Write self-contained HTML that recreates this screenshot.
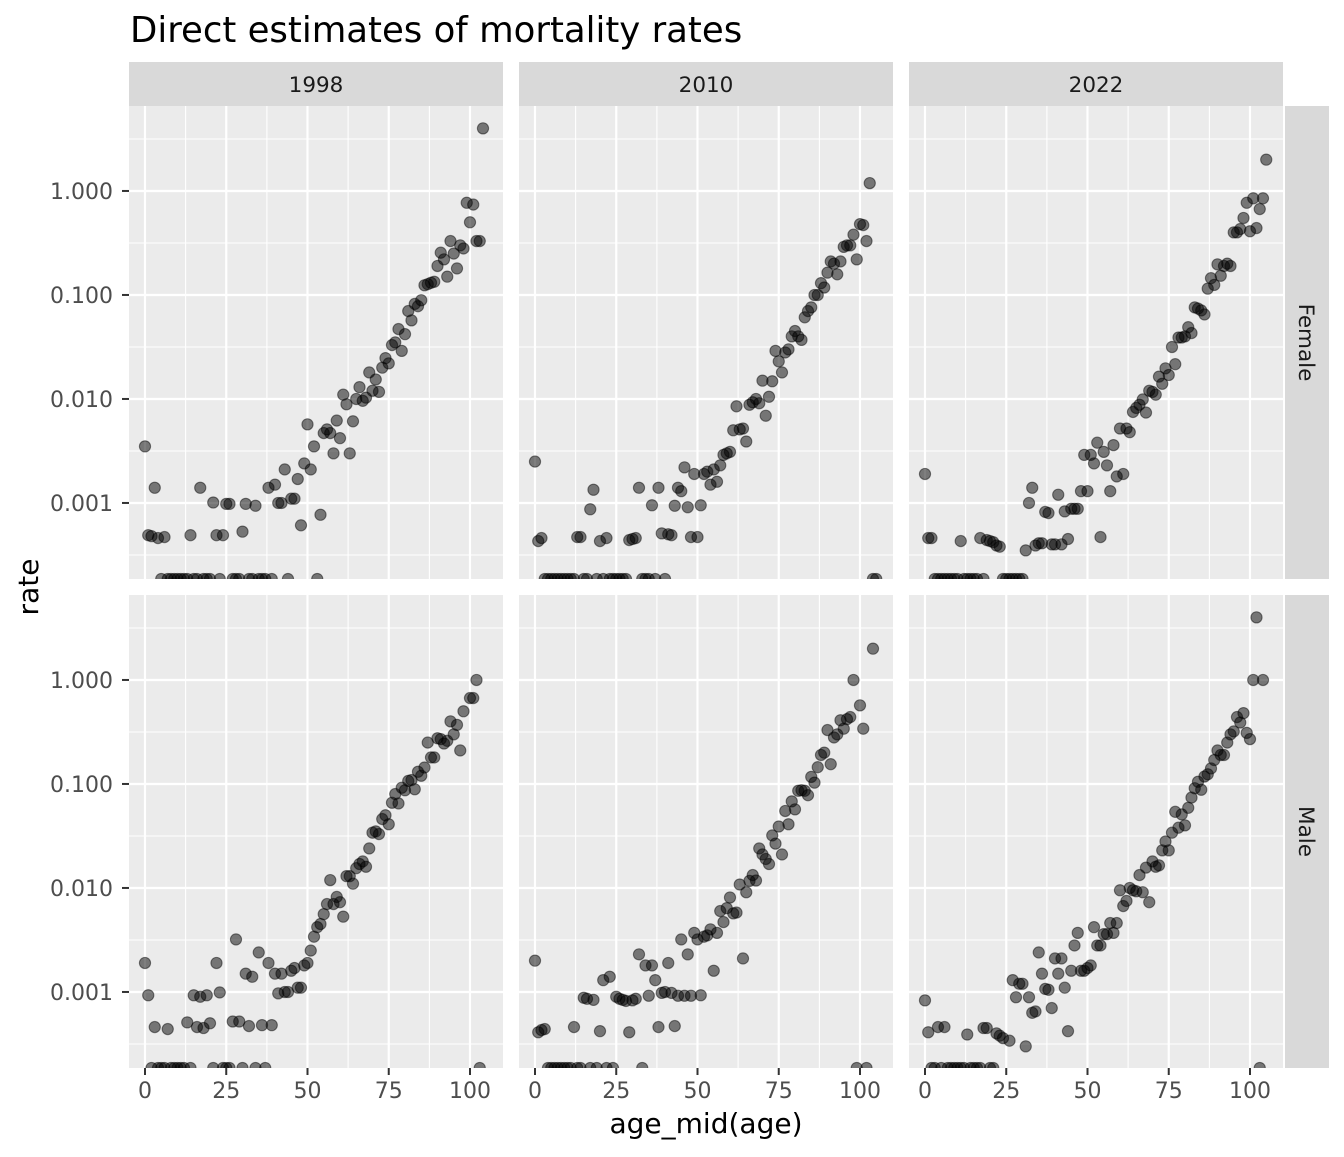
<!DOCTYPE html>
<html><head><meta charset="utf-8"><style>
html,body{margin:0;padding:0;background:#fff;}
svg text{font-family:"DejaVu Sans","Liberation Sans",sans-serif;}
</style></head><body>
<svg id="chart" width="1344" height="1152" viewBox="0 0 1344 1152" xmlns="http://www.w3.org/2000/svg">
<rect x="0" y="0" width="1344" height="1152" fill="#fff"/>
<text x="130" y="42" font-size="35.5" fill="#000">Direct estimates of mortality rates</text>
<text x="706" y="1133" font-size="28" fill="#000" text-anchor="middle">age_mid(age)</text>
<text transform="translate(38,587) rotate(-90)" font-size="28" fill="#000" text-anchor="middle">rate</text>
</svg>
<script>
const years = ["1998","2010","2022"];
const sexes = ["Female","Male"];
const xTicks = [0,25,50,75,100];
const xMinor = [12.5,37.5,62.5,87.5];
const yTicks = [1,0.1,0.01,0.001];
const yTickLabels = ["1.000","0.100","0.010","0.001"];
const yMinor = [3.16,0.316,0.0316,0.00316,0.000316];

const f1998Ages = [0,1,2,3,4,6,14,17,21,22,24,25,26,30,31,34,38,40,41,42,43,45,46,47,48,49,50,51,52,54,55,56,57,58,59,60,61,62,63,64,65,66,67,68,69,70,71,72,73,74,75,76,77,78,79,80,81,82,83,84,85,86,87,88,89,90,91,92,93,94,95,96,97,98,99,100,101,102,103,104];
const f1998Rates = [0.0035,0.00049,0.00048,0.0014,0.00046,0.00047,0.00049,0.0014,0.00101,0.00049,0.00049,0.00098,0.00098,0.00053,0.00098,0.00094,0.0014,0.0015,0.001,0.001,0.0021,0.0011,0.0011,0.0017,0.00061,0.0024,0.0057,0.0021,0.0035,0.00077,0.0047,0.0051,0.0047,0.003,0.0062,0.0042,0.011,0.0089,0.003,0.0061,0.01,0.013,0.0096,0.0103,0.018,0.012,0.0154,0.0117,0.02,0.0247,0.022,0.033,0.035,0.047,0.029,0.042,0.07,0.057,0.082,0.078,0.089,0.124,0.127,0.131,0.134,0.19,0.255,0.22,0.15,0.33,0.25,0.18,0.3,0.28,0.77,0.5,0.74,0.33,0.33,4.0];
const f1998ZeroAges = [5,7,8,9,10,11,12,13,15,16,18,19,20,23,27,28,29,32,33,35,36,37,39,44,53];

const f2010Ages = [0,1,2,13,14,17,18,20,22,29,30,31,32,36,38,39,41,42,43,44,45,46,47,48,49,50,51,52,53,54,55,56,57,58,59,60,61,62,63,64,65,66,67,68,69,70,71,72,73,74,75,76,77,78,79,80,81,82,83,84,85,86,87,88,89,90,91,92,93,94,95,96,97,98,99,100,101,102,103];
const f2010Rates = [0.0025,0.00043,0.00046,0.00047,0.00047,0.00087,0.00134,0.00043,0.00046,0.00044,0.00045,0.00046,0.0014,0.00095,0.0014,0.00051,0.0005,0.00049,0.00094,0.0014,0.0013,0.0022,0.00091,0.00047,0.0019,0.00047,0.00095,0.0019,0.002,0.0015,0.0021,0.0016,0.0023,0.0029,0.003,0.0031,0.005,0.0085,0.0051,0.0052,0.0039,0.0088,0.0093,0.01,0.0091,0.015,0.0069,0.0105,0.0148,0.029,0.023,0.018,0.028,0.03,0.04,0.045,0.04,0.037,0.061,0.07,0.076,0.1,0.1,0.13,0.118,0.164,0.21,0.2,0.158,0.21,0.29,0.3,0.3,0.38,0.22,0.48,0.47,0.33,1.19];
const f2010ZeroAges = [3,4,5,6,7,8,9,10,11,12,15,16,19,21,23,24,25,26,27,28,33,34,35,37,40,104,105];

const f2022Ages = [0,1,2,11,17,19,20,21,22,23,31,32,33,34,35,36,37,38,39,40,41,42,43,44,45,46,47,48,49,50,51,52,53,54,55,56,57,58,59,60,61,62,63,64,65,66,67,68,69,70,71,72,73,74,75,76,77,78,79,80,81,82,83,84,85,86,87,88,89,90,91,92,93,94,95,96,97,98,99,100,101,102,103,104,105];
const f2022Rates = [0.0019,0.00046,0.00046,0.00043,0.00046,0.00044,0.00043,0.00042,0.00039,0.00038,0.00035,0.001,0.0014,0.00039,0.00041,0.00041,0.00082,0.0008,0.0004,0.0004,0.0012,0.0004,0.00083,0.00045,0.00088,0.00088,0.00088,0.0013,0.0029,0.0013,0.0029,0.0024,0.0038,0.00047,0.0031,0.0023,0.0013,0.0036,0.0018,0.0052,0.0019,0.0052,0.0048,0.0075,0.0082,0.0088,0.0099,0.0074,0.012,0.0117,0.011,0.0164,0.014,0.0197,0.017,0.0316,0.0216,0.039,0.039,0.04,0.049,0.043,0.076,0.074,0.071,0.065,0.115,0.145,0.125,0.197,0.153,0.19,0.2,0.19,0.4,0.4,0.43,0.55,0.77,0.41,0.85,0.44,0.67,0.85,2.0];
const f2022ZeroAges = [3,4,5,6,7,8,9,10,12,13,14,15,16,18,24,25,26,27,28,29,30];

const m1998Ages = [0,1,3,7,13,15,16,17,18,19,20,22,23,27,28,29,31,32,33,35,36,38,39,40,41,42,43,44,45,46,47,48,49,50,51,52,53,54,55,56,57,58,59,60,61,62,63,64,65,66,67,68,69,70,71,72,73,74,75,76,77,78,79,80,81,82,83,84,85,86,87,88,89,90,91,92,93,94,95,96,97,98,100,101,102];
const m1998Rates = [0.0019,0.00093,0.00046,0.00044,0.00051,0.00093,0.00046,0.0009,0.00045,0.00093,0.0005,0.0019,0.00099,0.00052,0.0032,0.00052,0.0015,0.00047,0.0014,0.0024,0.00048,0.0019,0.00048,0.0015,0.00097,0.0015,0.001,0.001,0.0016,0.0017,0.0011,0.0011,0.0018,0.0019,0.0025,0.0034,0.0042,0.0045,0.0056,0.007,0.0119,0.007,0.0082,0.0073,0.0053,0.013,0.013,0.011,0.0155,0.017,0.018,0.016,0.024,0.034,0.035,0.033,0.046,0.05,0.041,0.066,0.08,0.065,0.092,0.087,0.107,0.109,0.089,0.131,0.12,0.144,0.25,0.18,0.18,0.275,0.27,0.245,0.26,0.4,0.3,0.37,0.21,0.5,0.67,0.67,1.0];
const m1998ZeroAges = [2,4,5,6,8,9,10,11,12,14,21,24,25,26,30,34,37,103];

const m2010Ages = [0,1,2,3,12,15,16,18,20,21,23,25,26,27,28,29,30,31,32,34,35,36,37,38,39,40,41,42,43,44,45,46,47,48,49,50,51,52,53,54,55,56,57,58,59,60,61,62,63,64,65,66,67,68,69,70,71,72,73,74,75,76,77,78,79,80,81,82,83,84,85,86,87,88,89,90,91,92,93,94,95,96,97,98,100,101,104];
const m2010Rates = [0.002,0.00041,0.00043,0.00044,0.00046,0.00088,0.00086,0.00084,0.00042,0.0013,0.0014,0.0009,0.00086,0.00084,0.00082,0.00041,0.00083,0.00086,0.0023,0.0018,0.00092,0.0018,0.0013,0.00046,0.00098,0.001,0.0019,0.00098,0.00047,0.00092,0.0032,0.00092,0.0023,0.00092,0.0037,0.0032,0.00093,0.0034,0.0035,0.004,0.0016,0.0037,0.006,0.0047,0.0064,0.0081,0.0057,0.0058,0.0108,0.0021,0.0091,0.0117,0.0133,0.0118,0.024,0.021,0.019,0.017,0.032,0.0267,0.039,0.021,0.055,0.041,0.068,0.057,0.086,0.087,0.086,0.078,0.117,0.103,0.145,0.19,0.2,0.33,0.155,0.28,0.3,0.41,0.34,0.42,0.44,1.0,0.57,0.34,2.0];
const m2010ZeroAges = [4,5,6,7,8,9,10,11,13,14,17,19,22,24,33,99,102];

const m2022Ages = [0,1,4,6,13,18,19,22,23,24,26,27,28,29,30,31,32,33,34,35,36,37,38,39,40,41,42,43,44,45,46,47,48,49,50,51,52,53,54,55,56,57,58,59,60,61,62,63,64,65,66,67,68,69,70,71,72,73,74,75,76,77,78,79,80,81,82,83,84,85,86,87,88,89,90,91,92,93,94,95,96,97,98,99,100,101,102,104];
const m2022Rates = [0.00083,0.00041,0.00046,0.00046,0.00039,0.00045,0.00045,0.0004,0.00038,0.00036,0.00034,0.0013,0.00089,0.0012,0.0012,0.0003,0.00089,0.00063,0.00065,0.0024,0.0015,0.00107,0.00105,0.0007,0.0021,0.0015,0.0021,0.0011,0.00042,0.0016,0.0028,0.0037,0.0016,0.0016,0.0017,0.0018,0.0042,0.0028,0.0028,0.0036,0.0036,0.0046,0.0037,0.0046,0.0095,0.0067,0.0075,0.01,0.0095,0.0093,0.0133,0.0091,0.0157,0.0073,0.018,0.016,0.0165,0.023,0.028,0.023,0.034,0.054,0.038,0.051,0.04,0.059,0.074,0.091,0.105,0.088,0.118,0.124,0.141,0.17,0.21,0.19,0.19,0.25,0.3,0.32,0.44,0.39,0.48,0.31,0.27,1.0,4.0,1.0];
const m2022ZeroAges = [2,3,5,7,8,9,10,11,12,14,15,16,17,20,21,103];

const panels = [
  [f1998Ages,f1998Rates,f1998ZeroAges],[f2010Ages,f2010Rates,f2010ZeroAges],[f2022Ages,f2022Rates,f2022ZeroAges],
  [m1998Ages,m1998Rates,m1998ZeroAges],[m2010Ages,m2010Rates,m2010ZeroAges],[m2022Ages,m2022Rates,m2022ZeroAges]
];

const NS = "http://www.w3.org/2000/svg";
const svg = document.getElementById("chart");
const PW = 374, PH = 473, COLX = [129,519,909], ROWY = [106,595];
const AGE_MIN = -4.92, PX_PER_AGE = 3.25;
const LOG_MAX = 0.817, PX_PER_DEC = 104;
function xScale(c, age){ return COLX[c] + (age - AGE_MIN) * PX_PER_AGE; }
function yScale(r, v){
  if (v <= 0) return ROWY[r] + PH;
  return ROWY[r] + (LOG_MAX - Math.log10(v)) * PX_PER_DEC;
}
function mk(tag, attrs, parent){
  const e = document.createElementNS(NS, tag);
  for (const k in attrs) e.setAttribute(k, attrs[k]);
  (parent || svg).appendChild(e);
  return e;
}

const defs = mk("defs", {});
for (let r = 0; r < 2; r++) for (let c = 0; c < 3; c++) {
  const cp = mk("clipPath", {id: "clip" + r + c}, defs);
  mk("rect", {x: COLX[c], y: ROWY[r], width: PW, height: PH}, cp);
}

for (let r = 0; r < 2; r++) {
  for (let c = 0; c < 3; c++) {
    const g = mk("g", {});
    
    
    const bg = mk("rect", {x: COLX[c], y: ROWY[r], width: PW, height: PH, fill: "#EBEBEB"}, g);
    
    
    const gg = mk("g", {"clip-path": "url(#clip" + r + c + ")"}, g);
    
    
    yMinor.forEach(v => {
      const y = yScale(r, v);
      mk("line", {x1: COLX[c], x2: COLX[c] + PW, y1: y, y2: y, stroke: "#fff", "stroke-width": 1.1}, gg);
    });
    xMinor.forEach(a => {
      const x = xScale(c, a);
      mk("line", {x1: x, x2: x, y1: ROWY[r], y2: ROWY[r] + PH, stroke: "#fff", "stroke-width": 1.1}, gg);
    });
    yTicks.forEach(v => {
      const y = yScale(r, v);
      mk("line", {x1: COLX[c], x2: COLX[c] + PW, y1: y, y2: y, stroke: "#fff", "stroke-width": 2.2}, gg);
    });
    xTicks.forEach(a => {
      const x = xScale(c, a);
      mk("line", {x1: x, x2: x, y1: ROWY[r], y2: ROWY[r] + PH, stroke: "#fff", "stroke-width": 2.2}, gg);
    });
    const pts = mk("g", {"clip-path": "url(#clip" + r + c + ")"}, g);
    
    
    const [ages, rates, zeros] = panels[r * 3 + c];
    ages.forEach((a, i) => {
      const p = mk("circle", {cx: xScale(c, a), cy: yScale(r, rates[i]), r: 5.6, fill: "#000", "fill-opacity": 0.5, stroke: "#000", "stroke-opacity": 0.45, "stroke-width": 1.1}, pts);
      
      
    });
    zeros.forEach(a => {
      const p = mk("circle", {cx: xScale(c, a), cy: yScale(r, 0), r: 5.6, fill: "#000", "fill-opacity": 0.5, stroke: "#000", "stroke-opacity": 0.45, "stroke-width": 1.1}, pts);
      
      
    });
  }
}

// strips
for (let c = 0; c < 3; c++) {
  const s = mk("rect", {x: COLX[c], y: 62, width: PW, height: 44, fill: "#D9D9D9"});
  
  
  const t = mk("text", {x: COLX[c] + PW / 2, y: 92, "font-size": 21.5, fill: "#1A1A1A", "text-anchor": "middle"});
  t.textContent = years[c];
  
  
}
for (let r = 0; r < 2; r++) {
  const s = mk("rect", {x: 1285, y: ROWY[r], width: 44, height: PH, fill: "#D9D9D9"});
  
  
  const cy = ROWY[r] + PH / 2;
  const t = mk("text", {transform: "translate(1299," + cy + ") rotate(90)", "font-size": 21.5, fill: "#1A1A1A", "text-anchor": "middle"});
  t.textContent = sexes[r];
  
  
}

// y axes
for (let r = 0; r < 2; r++) {
  yTicks.forEach((v, i) => {
    const y = yScale(r, v);
    const tk = mk("line", {x1: 122, x2: 129, y1: y, y2: y, stroke: "#333", "stroke-width": 2});
    
    
    const t = mk("text", {x: 113, y: y + 8, "font-size": 22, fill: "#4D4D4D", "text-anchor": "end"});
    t.textContent = yTickLabels[i];
    
    
  });
}
// x axes
for (let c = 0; c < 3; c++) {
  xTicks.forEach(a => {
    const x = xScale(c, a);
    const tk = mk("line", {x1: x, x2: x, y1: 1068, y2: 1075, stroke: "#333", "stroke-width": 2});
    
    
    const t = mk("text", {x: x, y: 1098, "font-size": 22, fill: "#4D4D4D", "text-anchor": "middle"});
    t.textContent = String(a);
    
    
  });
}
</script>
</body></html>
